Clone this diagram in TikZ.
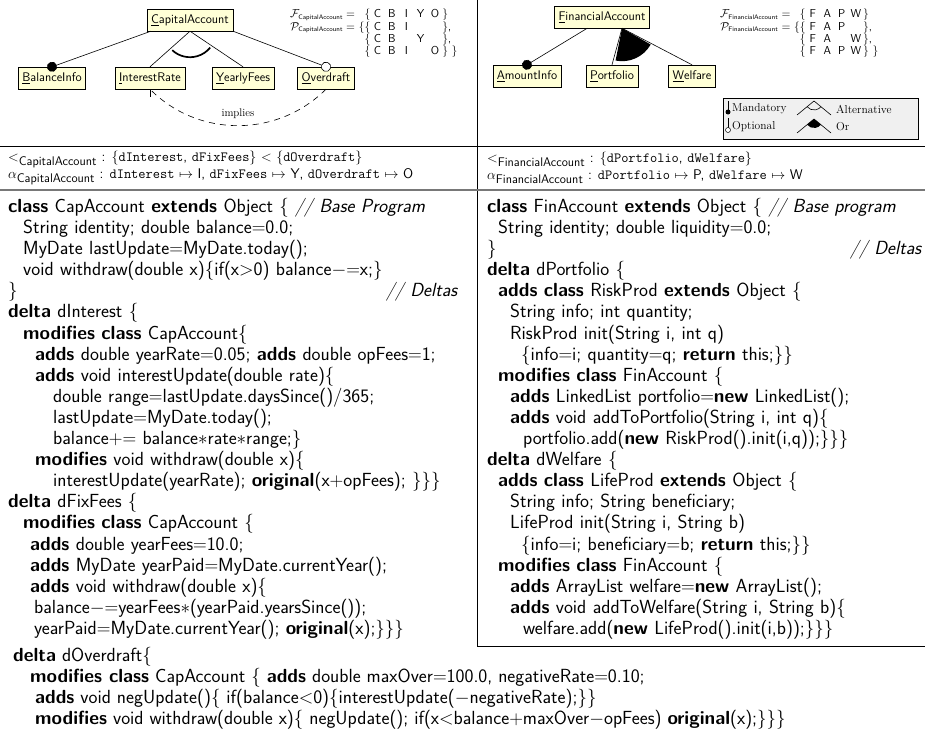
\RequirePackage{fix-cm}
\documentclass[tikz,border=0pt]{standalone}
\usepackage{amsmath}
\usetikzlibrary{positioning,calc,arrows.meta}
\definecolor{featfill}{RGB}{255,255,214}
\definecolor{legfill}{RGB}{240,240,240}
\definecolor{rulegray}{RGB}{120,120,120}
\newcommand{\kw}[1]{\textbf{#1}}
\newcommand{\cl}[2]{\hspace*{#1pt}\mbox{#2}}
\newcommand{\fl}[1]{\makebox[1.25em]{#1}}
\newcommand{\fsub}[1]{\mbox{\fontsize{6.5}{7}\selectfont #1}}
\newcommand{\bsub}[1]{\mbox{\fontsize{12.5}{12.5}\selectfont #1}}
\newcommand{\minuseq}{\mathrel{{-}{=}}}
\newcommand{\pluseq}{\mathrel{{+}{=}}}

\begin{document}
\begin{tikzpicture}[x=1pt,y=1pt]
	\tikzset{
		feature_box/.style={%
             draw,
             fill=featfill,
             inner xsep=4pt,
             inner ysep=0pt,
             minimum height=22pt,
             font=\sffamily\fontsize{12.5}{12.5}\selectfont},
		code_text/.style={%
             inner sep=0pt,
             align=left,
             anchor=north west,
             font=\sffamily\fontsize{19}{21.1}\selectfont},
		band_text/.style={%
             inner sep=0pt,
             anchor=west,
             font=\sffamily\fontsize{14}{14}\selectfont},
		set_text/.style={%
             inner sep=0pt,
             anchor=north west,
             font=\sffamily\fontsize{11.5}{12}\selectfont},
		legend_text/.style={%
             inner sep=0pt,
             anchor=west,
             font=\fontsize{11.5}{12}\selectfont}
       }

       \tikzstyle{edge_style} = [draw=black, line width=0.6]
       \tikzstyle{mand_edge} = [edge_style, -{Circle[length=10pt]}, shorten >=-5pt]
       \tikzstyle{opt_edge} = [edge_style, -{Circle[open,length=10pt,fill=white]}, shorten >=-5pt]
       \tikzstyle{implies_edge} = [draw=black, line width=0.6, dash pattern=on 6pt off 5pt, -{Straight Barb[length=5pt]}]

	\useasboundingbox (0,0) rectangle (925,-736);

	% separators
	\draw[line width=0.8] (477,0) -- (477,-646) -- (925,-646);
	\draw[line width=0.8] (0,-146) -- (925,-146);
	\draw[rulegray, line width=2] (0,-190) -- (925,-190);

	% feature model of CapitalAccount
	\node[feature_box] (cap) at (190,-20) {\underline{C}apitalAccount};
	\node[feature_box] (bal) at (52,-78) {\underline{B}alanceInfo};
	\node[feature_box] (intr) at (150,-78) {\underline{I}nterestRate};
	\node[feature_box] (year) at (243,-78) {\underline{Y}earlyFees};
	\node[feature_box] (over) at (326,-78) {\underline{O}verdraft};

	\draw[mand_edge] ($(cap.south west)+(4,0)$) -- (bal.north);
	\draw[edge_style] (cap.south) -- (intr.north);
	\draw[edge_style] (cap.south) -- (year.north);
	\draw[opt_edge] (cap.south east) -- (over.north);
	\draw[line width=1.7] ($(cap.south)+(227:26)$) arc[start angle=227, end angle=321, radius=26];

	\draw[implies_edge] (over.south) to[bend left=45]
	     node[above=3pt, font=\fontsize{11}{11}\selectfont] (impl) {implies} (intr.south);

	\node[set_text] (capsets) at (290,-9) {%
	  \begin{tabular}{@{}r@{\ }l@{}l@{}}
	  $\mathcal{F}_{\fsub{CapitalAccount}} =$ & & $\{$\fl{C}\fl{B}\fl{I}\fl{Y}\fl{O}$\}$\\
	  $\mathcal{P}_{\fsub{CapitalAccount}} =$ & $\{$\ & $\{$\fl{C}\fl{B}\fl{I}\fl{}\fl{}$\}$,\\
	  & & $\{$\fl{C}\fl{B}\fl{}\fl{Y}\fl{}$\}$,\\
	  & & $\{$\fl{C}\fl{B}\fl{I}\fl{}\fl{O}$\}$ $\}$
	  \end{tabular}};

	% feature model of FinancialAccount
	\node[feature_box] (fin) at (602,-17) {\underline{F}inancialAccount};
	\node[feature_box] (amount) at (527,-76) {\underline{A}mountInfo};
	\node[feature_box] (port) at (612,-76) {\underline{P}ortfolio};
	\node[feature_box] (welf) at (692,-76) {\underline{W}elfare};
	\coordinate (orpt) at ($(fin.south)+(20,0)$);

	\draw[mand_edge] ($(fin.south west)+(33,0)$) -- (amount.north);
	\draw[edge_style] (orpt) -- (port.north);
	\draw[edge_style] (orpt) -- (welf.north);
	\fill (orpt) -- ++(258.7:33) arc[start angle=258.7, end angle=330.3, radius=33] -- cycle;

	\node[set_text] (finsets) at (720,-9) {%
	  \begin{tabular}{@{}r@{\ }l@{}l@{}}
	  $\mathcal{F}_{\fsub{FinancialAccount}} =$ & & $\{$\fl{F}\fl{A}\fl{P}\fl{W}$\}$\\
	  $\mathcal{P}_{\fsub{FinancialAccount}} =$ & $\{$\ & $\{$\fl{F}\fl{A}\fl{P}\fl{}$\}$,\\
	  & & $\{$\fl{F}\fl{A}\fl{}\fl{W}$\}$,\\
	  & & $\{$\fl{F}\fl{A}\fl{P}\fl{W}$\}$ $\}$
	  \end{tabular}};

	% legend
	\node[draw, fill=legfill, inner sep=0pt, anchor=north west,
	      minimum width=195, minimum height=41] (legend) at (723,-98) {};
	\draw[edge_style] (728,-101) -- (728,-112);
	\fill (728,-112) circle (2.5);
	\node[legend_text] (mandlbl) at (732,-109) {Mandatory};
	\draw[edge_style] (728,-118) -- (728,-130);
	\filldraw[fill=white, line width=0.5] (728,-130) circle (2.5);
	\node[legend_text] (optlbl) at (732,-127) {Optional};
	\draw[edge_style] (797,-115) -- (814,-101) -- (831,-115);
	\draw[line width=0.6] ($(814,-101)+(219:9)$) arc[start angle=219, end angle=321, radius=9];
	\node[legend_text] (altlbl) at (836,-109) {Alternative};
	\draw[edge_style] (797,-133) -- (814,-119) -- (831,-133);
	\fill (814,-119) -- ++(219:9) arc[start angle=219, end angle=321, radius=9] -- cycle;
	\node[legend_text] (orlbl) at (836,-127) {Or};

	% delta ordering and activation
	\node[band_text] (caporder) at (8,-159) {$<_{\bsub{CapitalAccount}}$ :
	  $\{$\texttt{dInterest}, \texttt{dFixFees}$\}$ $<$ $\{$\texttt{dOverdraft}$\}$};
	\node[band_text] (capalpha) at (8,-177) {$\alpha_{\bsub{CapitalAccount}}$ :
	  \texttt{dInterest} $\mapsto$ I, \texttt{dFixFees} $\mapsto$ Y, \texttt{dOverdraft} $\mapsto$ O};
	\node[band_text] (finorder) at (487,-159) {$<_{\bsub{FinancialAccount}}$ :
	  $\{$\texttt{dPortfolio}, \texttt{dWelfare}$\}$};
	\node[band_text] (finalpha) at (487,-177) {$\alpha_{\bsub{FinancialAccount}}$ :
	  \texttt{dPortfolio} $\mapsto$ P, \texttt{dWelfare} $\mapsto$ W};

	% code of the CapitalAccount product line
	\node[code_text, text width=450pt] (capcode) at (8,-198) {%
	  \cl{0}{\kw{class} CapAccount \kw{extends} Object $\{$ \textit{// Base Program}}\\
	  \cl{15}{String identity; double balance$=$0.0;}\\
	  \cl{15}{MyDate lastUpdate$=$MyDate.today();}\\
	  \cl{15}{void withdraw(double x)$\{$if(x$>$0) balance$\minuseq$x;$\}$}\\
	  $\}$\hspace{0pt plus 1fill}\textit{// Deltas}\\
	  \cl{0}{\kw{delta} dInterest $\{$}\\
	  \cl{15}{\kw{modifies class} CapAccount$\{$}\\
	  \cl{27}{\kw{adds} double yearRate$=$0.05; \kw{adds} double opFees$=$1;}\\
	  \cl{27}{\kw{adds} void interestUpdate(double rate)$\{$}\\
	  \cl{45}{double range$=$lastUpdate.daysSince()$/$365;}\\
	  \cl{45}{lastUpdate$=$MyDate.today();}\\
	  \cl{45}{balance$\pluseq$ balance$*$rate$*$range;$\}$}\\
	  \cl{27}{\kw{modifies} void withdraw(double x)$\{$}\\
	  \cl{45}{interestUpdate(yearRate); \kw{original}(x$+$opFees); $\}\}\}$}\\
	  \cl{0}{\kw{delta} dFixFees $\{$}\\
	  \cl{15}{\kw{modifies class} CapAccount $\{$}\\
	  \cl{22}{\kw{adds} double yearFees$=$10.0;}\\
	  \cl{22}{\kw{adds} MyDate yearPaid$=$MyDate.currentYear();}\\
	  \cl{22}{\kw{adds} void withdraw(double x)$\{$}\\
	  \cl{26}{balance$\minuseq$yearFees$*$(yearPaid.yearsSince());}\\
	  \cl{26}{yearPaid$=$MyDate.currentYear(); \kw{original}(x);$\}\}\}$}};

	\node[code_text] (overcode) at (13,-647) {%
	  \cl{0}{\kw{delta} dOverdraft$\{$}\\
	  \cl{17}{\kw{modifies class} CapAccount $\{$ \kw{adds} double maxOver$=$100.0, negativeRate$=$0.10;}\\
	  \cl{22}{\kw{adds} void negUpdate()$\{$ if(balance$<$0)$\{$interestUpdate($-$negativeRate);$\}\}$}\\
	  \cl{22}{\kw{modifies} void withdraw(double x)$\{$ negUpdate(); if(x$<$balance$+$maxOver$-$opFees) \kw{original}(x);$\}\}\}$}};

	% code of the FinancialAccount product line
	\node[code_text, text width=435pt] (fincode) at (487,-198) {%
	  \cl{0}{\kw{class} FinAccount \kw{extends} Object $\{$ \textit{// Base program}}\\
	  \cl{11}{String identity; double liquidity$=$0.0;}\\
	  $\}$\hspace{0pt plus 1fill}\textit{// Deltas}\\
	  \cl{0}{\kw{delta} dPortfolio $\{$}\\
	  \cl{11}{\kw{adds class} RiskProd \kw{extends} Object $\{$}\\
	  \cl{23}{String info; int quantity;}\\
	  \cl{23}{RiskProd init(String i, int q)}\\
	  \cl{34}{$\{$info$=$i; quantity$=$q; \kw{return} this;$\}\}$}\\
	  \cl{11}{\kw{modifies class} FinAccount $\{$}\\
	  \cl{23}{\kw{adds} LinkedList portfolio$=$\kw{new} LinkedList();}\\
	  \cl{23}{\kw{adds} void addToPortfolio(String i, int q)$\{$}\\
	  \cl{36}{portfolio.add(\kw{new} RiskProd().init(i,q));$\}\}\}$}\\
	  \cl{0}{\kw{delta} dWelfare $\{$}\\
	  \cl{11}{\kw{adds class} LifeProd \kw{extends} Object $\{$}\\
	  \cl{23}{String info; String beneficiary;}\\
	  \cl{23}{LifeProd init(String i, String b)}\\
	  \cl{34}{$\{$info$=$i; beneficiary$=$b; \kw{return} this;$\}\}$}\\
	  \cl{11}{\kw{modifies class} FinAccount $\{$}\\
	  \cl{23}{\kw{adds} ArrayList welfare$=$\kw{new} ArrayList();}\\
	  \cl{23}{\kw{adds} void addToWelfare(String i, String b)$\{$}\\
	  \cl{36}{welfare.add(\kw{new} LifeProd().init(i,b));$\}\}\}$}};

\end{tikzpicture}
\end{document}
